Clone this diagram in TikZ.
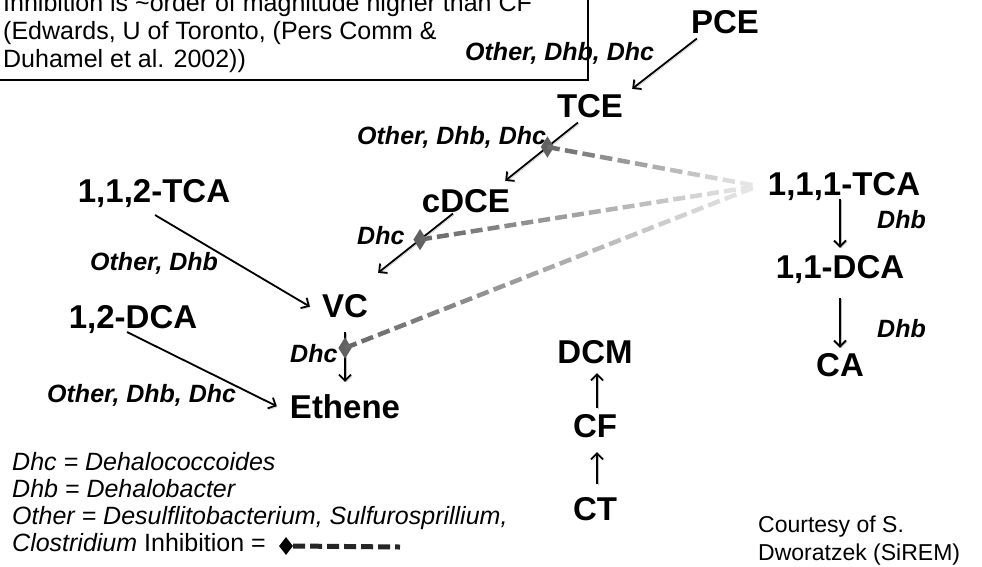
\documentclass[tikz,border=0pt]{standalone}
\usepackage{fontspec}
\setmainfont{Liberation Sans}
\usetikzlibrary{arrows.meta,shapes.geometric,calc}

\tikzset{
  chem/.style={font=\fontsize{33}{38}\selectfont\bfseries, inner sep=0pt, anchor=base},
  bug/.style={font=\fontsize{25}{30}\selectfont\bfseries\itshape, inner sep=0pt, anchor=base west},
  note/.style={font=\fontsize{25}{28}\selectfont, inner sep=0pt, anchor=base west},
  rxn/.style={line width=1.8pt, -{Straight Barb[length=6pt,width=12pt]},
    preaction={draw=black!25, transform canvas={shift={(1.3pt,-1.3pt)}}}},
  blot/.style={diamond, fill=black!62, inner sep=0pt, minimum width=14pt, minimum height=22pt},
  fade/.style={line width=4.5pt, line cap=butt}
}

\begin{document}
\begin{tikzpicture}[x=1pt,y=-1pt]
\useasboundingbox (0,0) rectangle (982,566);
\clip (0,0) rectangle (982,566);
%note box
\draw[line width=1.2pt] (-5,-40) rectangle (588,80);
\node[note] (box1) at (3,11) {Inhibition is \textasciitilde order of magnitude higher than CF};
\node[note] (box2) at (3,39) {(Edwards, U of Toronto, (Pers Comm \&};
\node[note] (box3) at (3,67) {Duhamel et al. 2002))};
%compounds
\node[chem] (pce) at (725,33) {PCE};
\node[chem] (tce) at (590,117) {TCE};
\node[chem] (cdce) at (466,212) {cDCE};
\node[chem] (vc) at (345,317) {VC};
\node[chem] (eth) at (345,418) {Ethene};
\node[chem] (tca112) at (154,202) {1,1,2-TCA};
\node[chem] (dca12) at (133,328) {1,2-DCA};
\node[chem] (tca111) at (844,195) {1,1,1-TCA};
\node[chem] (dca11) at (840,278) {1,1-DCA};
\node[chem] (ca) at (840,376) {CA};
\node[chem] (dcm) at (595,363) {DCM};
\node[chem] (cf) at (595,437) {CF};
\node[chem] (ct) at (595,520) {CT};
%pathways
\draw[rxn] ([shift={(6,5)}]pce.south west) -- ([shift={(9,-5)}]tce.north east);
\draw[rxn] ([shift={(-12,5)}]tce.south) -- node[blot,pos=0.42] (m1) {} ([shift={(-5,-8)}]cdce.north east);
\draw[rxn] ([shift={(-13,1)}]cdce.south) -- node[blot,pos=0.44] (m2) {} ([shift={(10,-21)}]vc.north east);
\draw[rxn] ([shift={(1,13)}]tca112.base) -- ([shift={(-12,1)}]vc.west);
\draw[rxn] ([shift={(-6,4)}]dca12.base) -- ([shift={(-13,0)}]eth.west);
\draw[rxn] ([shift={(0,15)}]vc.base) -- node[blot,pos=0.32] (m3) {} ([shift={(0,-12)}]eth.north);
\draw[rxn] ([shift={(-4,4)}]tca111.base) -- ([shift={(0,-7)}]dca11.north);
\draw[rxn] ([shift={(0,20)}]dca11.base) -- ([shift={(0,-5)}]ca.north);
\draw[rxn] ([shift={(2,-13)}]ct.north) -- ([shift={(2,15)}]cf.base);
\draw[rxn] ([shift={(2,-6)}]cf.north) -- ([shift={(2,10)}]dcm.base);
%inhibition by 1,1,1-TCA
\coordinate (hub) at ($(tca111.west)+(-10,0)$);
\foreach \m/\n in {m1/12,m2/20,m3/25}
  \foreach \i in {1,...,\n}{
    \pgfmathsetmacro\ta{(\i-1)/\n}
    \pgfmathsetmacro\tb{(\i-0.3)/\n}
    \pgfmathsetmacro\shade{int(62-52*\i/\n)}
    \draw[fade, black!\shade] ($(\m)!\ta!(hub)$) -- ($(\m)!\tb!(hub)$);
  }
%organisms
\node[bug] (lab1) at (465,60) {Other, Dhb, Dhc};
\node[bug] (lab2) at (357,144) {Other, Dhb, Dhc};
\node[bug] (lab3) at (357,244) {Dhc};
\node[bug] (lab4) at (90,270) {Other, Dhb};
\node[bug] (lab5) at (290,362) {Dhc};
\node[bug] (lab6) at (47,402) {Other, Dhb, Dhc};
\node[bug] (lab7) at (877,228) {Dhb};
\node[bug] (lab8) at (877,337) {Dhb};
%legend
\node[note] (leg1) at (12,470) {\itshape Dhc = Dehalococcoides};
\node[note] (leg2) at (12,497) {\itshape Dhb = Dehalobacter};
\node[note] (leg3) at (12,524) {\itshape Other = Desulflitobacterium, Sulfurosprillium,};
\node[note] (leg4) at (12,551) {{\itshape Clostridium} Inhibition =};
\node[blot, fill=black, minimum width=14pt, minimum height=18pt] (key) at (286,546) {};
\coordinate (keyend) at (400,547);
\draw[fade, line width=5pt, black!85, dash pattern=on 12pt off 5pt] (key.east) -- (keyend);
%source
\node[note, font=\fontsize{23}{28}\selectfont] (src1) at (758,532) {Courtesy of S.};
\node[note, font=\fontsize{23}{28}\selectfont] (src2) at (758,560) {Dworatzek (SiREM)};
\end{tikzpicture}
\end{document}
